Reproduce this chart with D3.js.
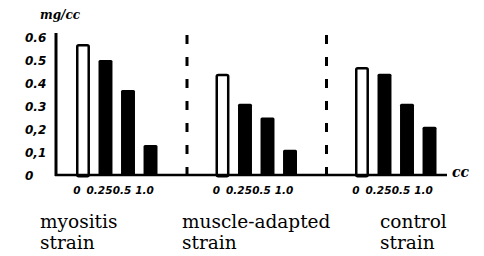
<!DOCTYPE html>
<html>
<head>
<meta charset="utf-8">
<script src="https://cdn.jsdelivr.net/npm/d3@7"></script>
<style>
  body { margin: 0; background: #fff; }
  svg { display: block; }
</style>
</head>
<body>
<div id="chart"></div>
<script>
// data
var strains = ["myositis strain", "muscle-adapted strain", "control strain"];
var strainLines = [["myositis", "strain"], ["muscle-adapted", "strain"], ["control", "strain"]];
var doses = ["0", "0.25", "0.5", "1.0"];
var myositis = [0.57, 0.50, 0.37, 0.13];
var muscleAdapted = [0.44, 0.31, 0.25, 0.11];
var control = [0.47, 0.44, 0.31, 0.21];
var yTicks = [0, 0.1, 0.2, 0.3, 0.4, 0.5, 0.6];
var yTickLabels = ["0", "0,1", "0,2", "0.3", "0.4", "0.5", "0.6"];

var series = [myositis, muscleAdapted, control];
// where each strain name starts, relative to its group
var nameShift = [-30, -27.5, 31];

var W = 484, H = 256;
var serif = "'DejaVu Serif', 'Liberation Serif', serif";
var svg = d3.select('#chart').append('svg')
  .attr('width', W)
  .attr('height', H);

var y = d3.scaleLinear().domain([0, 0.6]).range([175, 37]);
var x0 = d3.scaleBand().domain(strains).range([70, 488.5]);
var x1 = d3.scaleBand().domain(doses).range([6, 87.5]).paddingInner(0.38).paddingOuter(0);

// y tick labels
svg.append('g').selectAll('text')
  .data(yTicks)
  .enter().append('text')
  .attr('x', 25)
  .attr('y', function(d) { return y(d) + 4.5; })
  .attr('font-family', 'DejaVu Sans')
  .attr('font-weight', 'bold')
  .attr('font-style', 'italic')
  .attr('font-size', 12)
  .text(function(d, i) { return yTickLabels[i]; });

// unit label
svg.append('text')
  .attr('x', 40).attr('y', 19)
  .attr('font-family', serif)
  .attr('font-weight', 'bold')
  .attr('font-style', 'italic')
  .attr('font-size', 12)
  .text('mg/cc');

// dashed dividers between groups
svg.append('g').selectAll('line')
  .data(strains.slice(1))
  .enter().append('line')
  .attr('x1', function(d) { return x0(d) - 22.5; })
  .attr('x2', function(d) { return x0(d) - 22.5; })
  .attr('y1', y(0.6) - 2)
  .attr('y2', y(0))
  .attr('stroke', '#000')
  .attr('stroke-width', 3)
  .attr('stroke-dasharray', '9,13');

// bars
var groups = svg.append('g').selectAll('g')
  .data(strains)
  .enter().append('g')
  .attr('transform', function(d) { return 'translate(' + x0(d) + ',0)'; });

groups.selectAll('rect')
  .data(function(d, i) { return series[i].map(function(v, j) { return {dose: doses[j], v: v}; }); })
  .enter().append('rect')
  .attr('x', function(d) { return x1(d.dose) + (d.dose === '0' ? 1.25 : 0); })
  .attr('width', function(d) { return x1.bandwidth() - (d.dose === '0' ? 2.5 : 0); })
  .attr('y', function(d) { return y(d.v) + (d.dose === '0' ? 1.25 : 0); })
  .attr('height', function(d) { return y(0) - y(d.v); })
  .attr('fill', function(d) { return d.dose === '0' ? '#fff' : '#000'; })
  .attr('stroke', '#000')
  .attr('stroke-width', function(d) { return d.dose === '0' ? 2.5 : 0; })
  .attr('rx', 1.5);

// dose labels under each group
groups.selectAll('text.dose')
  .data(doses)
  .enter().append('text')
  .attr('class', 'dose')
  .attr('x', function(d) { return x1(d) + x1.bandwidth() / 2 - 6; })
  .attr('y', 194)
  .attr('text-anchor', 'middle')
  .attr('font-family', 'DejaVu Sans')
  .attr('font-weight', 'bold')
  .attr('font-style', 'italic')
  .attr('font-size', 10.5)
  .text(function(d) { return d; });

// strain names
groups.each(function(s, gi) {
  d3.select(this).selectAll('text.name')
    .data(strainLines[gi])
    .enter().append('text')
    .attr('class', 'name')
    .attr('x', nameShift[gi])
    .attr('y', function(d, i) { return 228 + i * 21; })
    .attr('font-family', serif)
    .attr('font-size', 18.5)
    .text(function(d) { return d; });
});

// axes
svg.append('line')
  .attr('x1', 56).attr('x2', 56)
  .attr('y1', 33).attr('y2', y(0) + 1)
  .attr('stroke', '#000').attr('stroke-width', 3);
svg.append('line')
  .attr('x1', 55).attr('x2', 447)
  .attr('y1', y(0)).attr('y2', y(0))
  .attr('stroke', '#000').attr('stroke-width', 2.5);

svg.append('text')
  .attr('x', 452).attr('y', 177)
  .attr('font-family', serif)
  .attr('font-weight', 'bold')
  .attr('font-style', 'italic')
  .attr('font-size', 14)
  .text('cc');
</script>
</body>
</html>
